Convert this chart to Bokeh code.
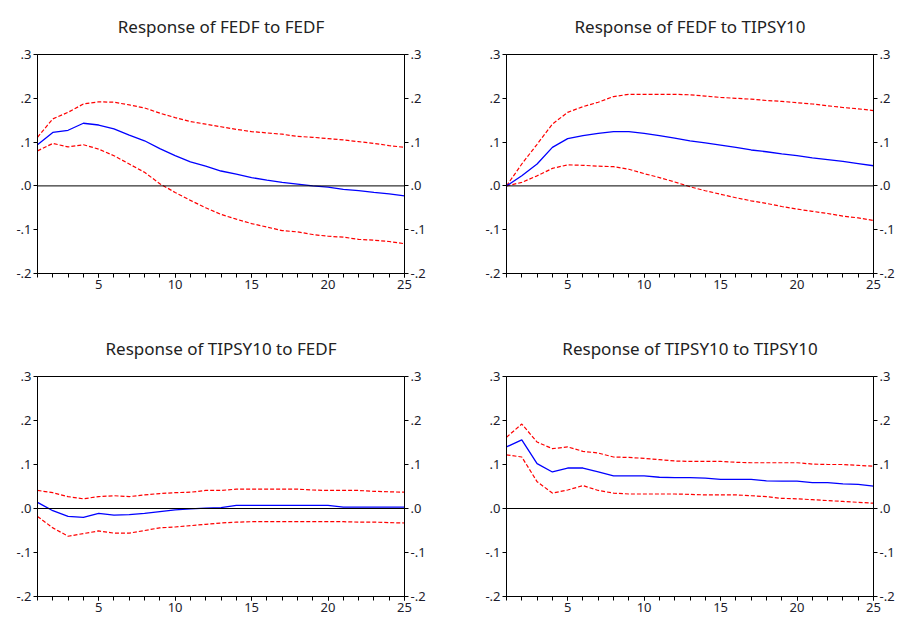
from bokeh.plotting import figure
from bokeh.layouts import column, row
from bokeh.models import LinearAxis, FixedTicker, Range1d, Span
from bokeh.embed import file_html
from bokeh.resources import INLINE

steps = list(range(1, 26))

titles = ["Response of FEDF to FEDF", "Response of FEDF to TIPSY10",
          "Response of TIPSY10 to FEDF", "Response of TIPSY10 to TIPSY10"]

y_ticks = [-0.2, -0.1, 0.0, 0.1, 0.2, 0.3]
y_tick_labels = ["-.2", "-.1", ".0", ".1", ".2", ".3"]
x_ticks = [5, 10, 15, 20, 25]

# Response of FEDF to FEDF
fedf_fedf = [0.094, 0.122, 0.127, 0.143, 0.139, 0.130, 0.116, 0.103, 0.085, 0.069,
             0.055, 0.045, 0.034, 0.027, 0.019, 0.013, 0.008, 0.004, 0.000, -0.003,
             -0.008, -0.011, -0.015, -0.018, -0.023]
fedf_fedf_hi = [0.111, 0.153, 0.168, 0.187, 0.192, 0.191, 0.185, 0.178, 0.166, 0.156,
                0.147, 0.141, 0.135, 0.129, 0.124, 0.121, 0.118, 0.113, 0.111, 0.108,
                0.105, 0.101, 0.097, 0.092, 0.088]
fedf_fedf_lo = [0.080, 0.097, 0.089, 0.094, 0.084, 0.069, 0.050, 0.031, 0.005, -0.015,
                -0.033, -0.050, -0.065, -0.076, -0.086, -0.094, -0.102, -0.105, -0.111, -0.115,
                -0.117, -0.122, -0.124, -0.127, -0.132]

# Response of FEDF to TIPSY10
fedf_tips = [0.000, 0.023, 0.050, 0.088, 0.108, 0.115, 0.120, 0.124, 0.124, 0.120,
             0.115, 0.109, 0.103, 0.098, 0.093, 0.088, 0.082, 0.078, 0.073, 0.069,
             0.064, 0.060, 0.056, 0.051, 0.046]
fedf_tips_hi = [0.000, 0.050, 0.095, 0.141, 0.168, 0.181, 0.191, 0.204, 0.209, 0.209,
                0.209, 0.209, 0.208, 0.205, 0.202, 0.200, 0.198, 0.195, 0.193, 0.190,
                0.187, 0.183, 0.179, 0.176, 0.172]
fedf_tips_lo = [0.000, 0.008, 0.023, 0.040, 0.048, 0.047, 0.045, 0.044, 0.038, 0.028,
                0.019, 0.009, -0.002, -0.011, -0.019, -0.027, -0.034, -0.040, -0.047, -0.053,
                -0.058, -0.063, -0.069, -0.073, -0.079]

# Response of TIPSY10 to FEDF
tips_fedf = [0.014, -0.005, -0.018, -0.020, -0.011, -0.015, -0.014, -0.011, -0.007, -0.003,
             -0.001, 0.001, 0.002, 0.007, 0.007, 0.007, 0.007, 0.007, 0.007, 0.007,
             0.003, 0.003, 0.003, 0.003, 0.003]
tips_fedf_hi = [0.041, 0.036, 0.027, 0.022, 0.027, 0.029, 0.027, 0.031, 0.034, 0.036,
                0.037, 0.041, 0.041, 0.044, 0.044, 0.044, 0.044, 0.044, 0.042, 0.041,
                0.041, 0.041, 0.039, 0.038, 0.037]
tips_fedf_lo = [-0.018, -0.044, -0.063, -0.057, -0.051, -0.056, -0.056, -0.050, -0.044, -0.042,
                -0.039, -0.036, -0.033, -0.031, -0.030, -0.030, -0.030, -0.030, -0.030, -0.030,
                -0.030, -0.031, -0.031, -0.032, -0.033]

# Response of TIPSY10 to TIPSY10
tips_tips = [0.140, 0.156, 0.102, 0.083, 0.092, 0.092, 0.083, 0.074, 0.074, 0.074,
             0.071, 0.070, 0.070, 0.069, 0.066, 0.066, 0.066, 0.063, 0.062, 0.062,
             0.059, 0.059, 0.056, 0.055, 0.051]
tips_tips_hi = [0.162, 0.192, 0.151, 0.136, 0.140, 0.130, 0.126, 0.117, 0.116, 0.114,
                0.111, 0.108, 0.107, 0.107, 0.107, 0.105, 0.104, 0.104, 0.104, 0.104,
                0.101, 0.100, 0.100, 0.098, 0.096]
tips_tips_lo = [0.122, 0.117, 0.061, 0.035, 0.042, 0.052, 0.041, 0.035, 0.033, 0.033,
                0.033, 0.033, 0.032, 0.031, 0.031, 0.031, 0.029, 0.027, 0.023, 0.022,
                0.020, 0.018, 0.016, 0.014, 0.012]

panels = [
    (titles[0], fedf_fedf, fedf_fedf_hi, fedf_fedf_lo),
    (titles[1], fedf_tips, fedf_tips_hi, fedf_tips_lo),
    (titles[2], tips_fedf, tips_fedf_hi, tips_fedf_lo),
    (titles[3], tips_tips, tips_tips_hi, tips_tips_lo),
]

FONT = "Noto Sans"
LABEL_COLOR = "#1c1c2c"


def style_axis(ax, is_y):
    ax.axis_line_color = "black"
    ax.axis_line_width = 1
    ax.major_tick_line_color = "black"
    ax.minor_tick_line_color = "black"
    ax.major_tick_in = 0
    ax.major_tick_out = 4
    ax.minor_tick_in = 0
    ax.minor_tick_out = 4
    ax.major_label_text_font = FONT
    ax.major_label_text_font_size = "13px"
    ax.major_label_text_color = LABEL_COLOR
    ax.major_label_standoff = 2
    if is_y:
        ax.ticker = FixedTicker(ticks=y_ticks)
        ax.major_label_overrides = {t: l for t, l in zip(y_ticks, y_tick_labels)}
        ax.minor_tick_line_color = None
    else:
        ax.ticker = FixedTicker(ticks=x_ticks, minor_ticks=steps)


def make_panel(title, mid, hi, lo, width, height, bl, br, bt, bb):
    p = figure(width=width, height=height, output_backend="svg", toolbar_location=None,
               x_range=Range1d(1, 25), y_range=Range1d(-0.2, 0.3),
               min_border_left=bl, min_border_right=br, min_border_top=bt,
               min_border_bottom=bb)
    p.title.text = title
    p.title.align = "center"
    p.title.vertical_align = "top"
    p.title.text_font = FONT
    p.title.text_font_size = "17px"
    p.title.text_font_style = "normal"
    p.title.text_color = "#222222"
    p.title.standoff = 29
    p.xgrid.visible = False
    p.ygrid.visible = False
    p.outline_line_color = "black"
    p.outline_line_width = 1
    p.outline_line_alpha = 1
    p.background_fill_color = "white"
    p.border_fill_color = "white"
    style_axis(p.xaxis[0], False)
    style_axis(p.yaxis[0], True)
    ry = LinearAxis()
    style_axis(ry, True)
    p.add_layout(ry, "right")
    p.add_layout(Span(location=0, dimension="width", line_color="black", line_width=1))
    p.line(steps, hi, line_color="#ff0000", line_width=1.2, line_dash="4 2")
    p.line(steps, lo, line_color="#ff0000", line_width=1.2, line_dash="4 2")
    p.line(steps, mid, line_color="#0000ff", line_width=1.3)
    return p


p1 = make_panel(*panels[0], width=450, height=318, bl=37, br=46, bt=54, bb=45)
p2 = make_panel(*panels[1], width=450, height=318, bl=56, br=27, bt=54, bb=45)
p3 = make_panel(*panels[2], width=450, height=299, bl=37, br=46, bt=58, bb=21)
p4 = make_panel(*panels[3], width=450, height=299, bl=56, br=27, bt=58, bb=21)

layout = column(row(p1, p2), row(p3, p4))

open("out.html", "w").write(file_html(layout, INLINE))
